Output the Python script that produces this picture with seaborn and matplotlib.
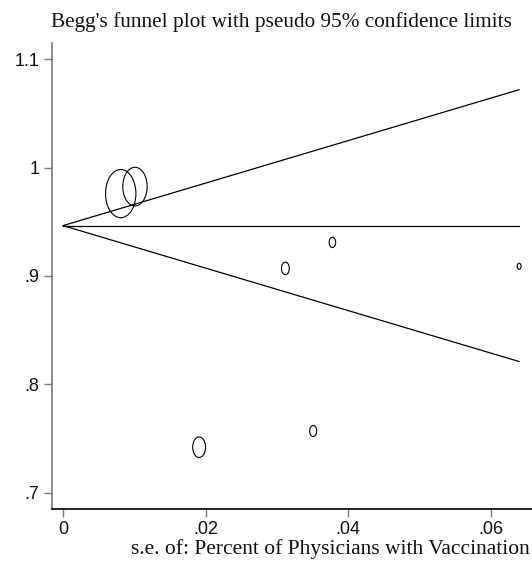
import numpy as np
import pandas as pd
import matplotlib
matplotlib.use("Agg")
import matplotlib.pyplot as plt
from matplotlib.path import Path
import seaborn as sns

# ---- data ----
se = [0.0081, 0.0101, 0.0191, 0.0312, 0.0351, 0.0378, 0.0640]
effect = [0.976, 0.9825, 0.742, 0.907, 0.757, 0.931, 0.909]
pooled = 0.9465
z95 = 1.96
xticks = [0, 0.02, 0.04, 0.06]
xtick_labels = ["0", ".02", ".04", ".06"]
yticks = [0.7, 0.8, 0.9, 1.0, 1.1]
ytick_labels = [".7", ".8", ".9", "1", "1.1"]
title = "Begg's funnel plot with pseudo 95% confidence limits"
xlabel = "s.e. of: Percent of Physicians with Vaccination"

sns.set_style("white")
plt.rcParams['font.family'] = ['Liberation Sans', 'DejaVu Sans']

W, H = 532, 561
fig = plt.figure(figsize=(W / 100, H / 100), dpi=100)
ax = fig.add_axes([52 / W, (H - 509) / H, (W - 52) / W, (509 - 43) / H])

df = pd.DataFrame({"se": se, "effect": effect})
df["w"] = 1.0 / df["se"] ** 2

# funnel lines
se_max = max(se)
lines = pd.DataFrame({"x": [0.0, se_max]})
lines["center"] = pooled
lines["upper"] = pooled + z95 * lines["x"]
lines["lower"] = pooled - z95 * lines["x"]
for col in ["upper", "center", "lower"]:
    sns.lineplot(data=lines, x="x", y=col, ax=ax, color="black", lw=0.9)

# elliptical hollow markers (Stata-like), area proportional to weight
circ = Path.unit_circle()
verts = circ.vertices * np.array([0.63, 1.0])
ell = Path(verts, circ.codes)
K = 0.0791
sizes = K * df["w"]
ax.scatter(df["se"], df["effect"], s=sizes, marker=ell, facecolors="none",
           edgecolors="black", linewidths=0.8, zorder=3)

# axis styling
ax.set_xlim(-0.00154, 0.0658)
ax.set_ylim(0.685, 1.115)
ax.set_xticks(xticks)
ax.set_xticklabels(xtick_labels)
ax.set_yticks(yticks)
ax.set_yticklabels(ytick_labels)
ax.set_xlabel("")
ax.set_ylabel("")
for s in ["top", "right"]:
    ax.spines[s].set_visible(False)
ax.spines["left"].set_color("#777777")
ax.spines["left"].set_linewidth(1.2)
ax.spines["bottom"].set_color("black")
ax.spines["bottom"].set_linewidth(1.2)
ax.tick_params(axis="both", direction="out", length=6, width=1.0,
               color="#777777", labelsize=13, labelcolor="#111111", pad=3,
               left=True, bottom=True)

fig.text(281 / W, 1 - 22 / H, title, ha="center", va="center",
         family=["Liberation Serif"], fontsize=15.3, color="#111111")
fig.text(530 / W, 1 - 549 / H, xlabel, ha="right", va="center",
         family=["Liberation Serif"], fontsize=15.5, color="#111111")

fig.savefig("out.png", dpi=100)
